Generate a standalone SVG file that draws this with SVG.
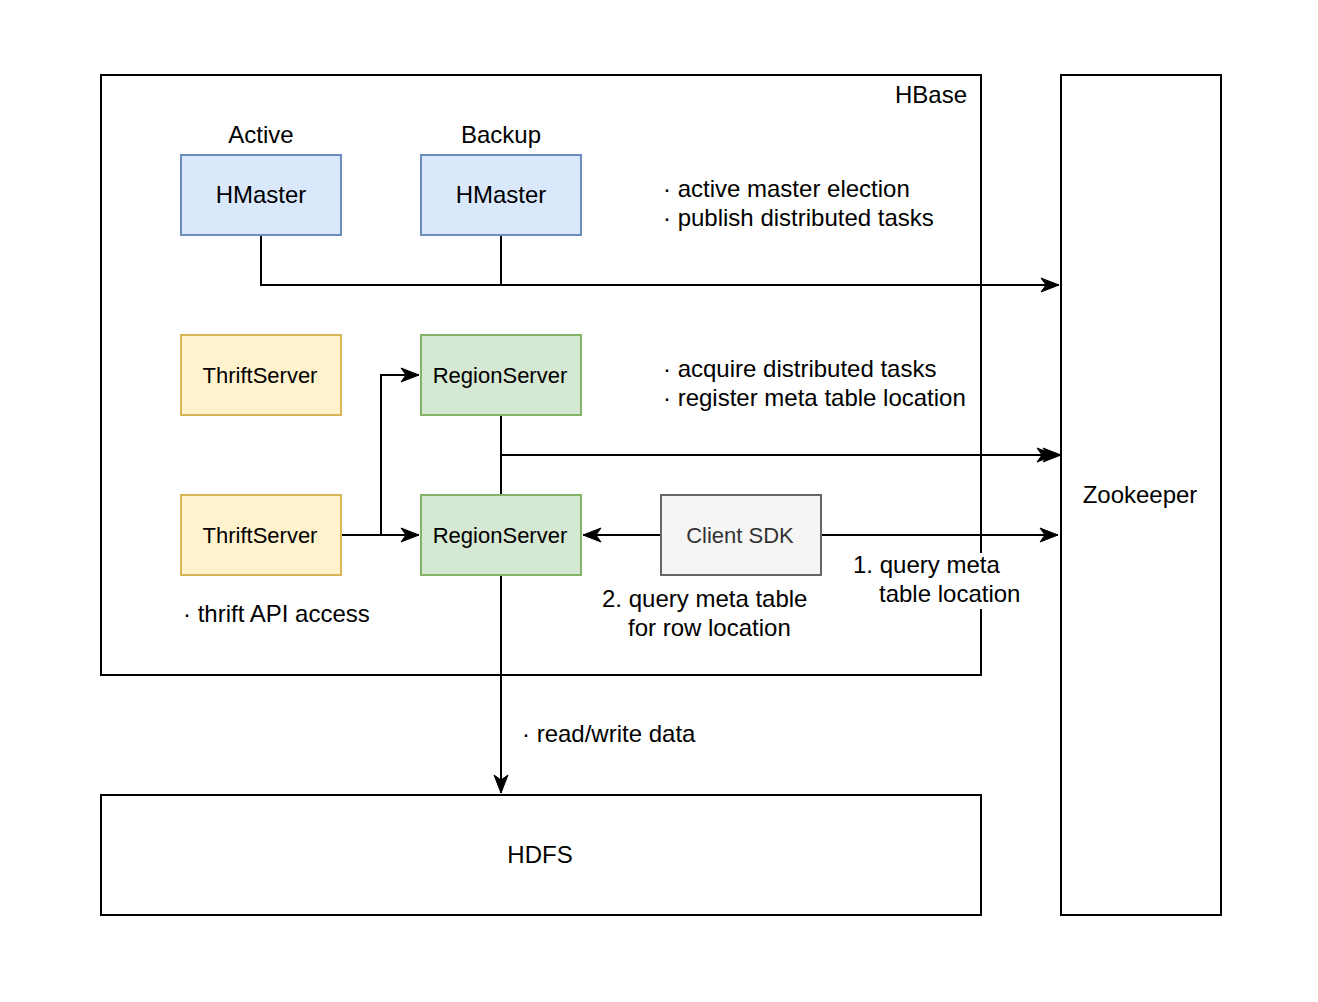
<svg xmlns="http://www.w3.org/2000/svg" width="1318" height="1002" viewBox="0 0 1318 1002">
<style>
text{font-family:"Liberation Sans",Arial,Helvetica,sans-serif;fill:#000;}
.c{text-anchor:middle;}
.big{font-size:24px;}
.mid{font-size:24px;}
.sm{font-size:22px;}
.frame{fill:#fff;stroke:#000;stroke-width:2;}
.blue{fill:#dae8fc;stroke:#6c8ebf;stroke-width:2;}
.yellow{fill:#fff2cc;stroke:#d6b656;stroke-width:2;}
.green{fill:#d5e8d4;stroke:#82b366;stroke-width:2;}
.gray{fill:#f5f5f5;stroke:#666666;stroke-width:2;}
.edge{fill:none;stroke:#000;stroke-width:2;}
</style>
<defs>
<marker id="arr" markerUnits="userSpaceOnUse" markerWidth="20" markerHeight="16" refX="19" refY="8" orient="auto">
<path d="M1,1 L19,8 L1,15 L6,8 z" fill="#000" stroke="#000" stroke-width="1"/>
</marker>
</defs>
<rect width="1318" height="1002" fill="#fff"/>
<g id="hbase">
<rect class="frame" x="101" y="75" width="880" height="600"/>
<text class="big c" x="931" y="103">HBase</text>
</g>
<g id="zookeeper">
<rect class="frame" x="1061" y="75" width="160" height="840"/>
<text class="big c" x="1140" y="503">Zookeeper</text>
</g>
<g id="hdfs">
<rect class="frame" x="101" y="795" width="880" height="120"/>
<text class="big c" x="540" y="863">HDFS</text>
</g>
<g id="connectors">
<path class="edge" d="M261,235 V285 H1059" marker-end="url(#arr)"/>
<path class="edge" d="M501,235 V285"/>
<path class="edge" d="M501,415 V455 H1061" marker-end="url(#arr)"/>
<path class="edge" d="M501,495 V455 H1055" marker-end="url(#arr)"/>
<path class="edge" d="M341,535 H419" marker-end="url(#arr)"/>
<path class="edge" d="M381,535 V375 H419" marker-end="url(#arr)"/>
<path class="edge" d="M661,535 H583" marker-end="url(#arr)"/>
<path class="edge" d="M821,535 H1058" marker-end="url(#arr)"/>
<path class="edge" d="M501,575 V793" marker-end="url(#arr)"/>
</g>
<g id="hmaster-active">
<text class="big c" x="261" y="143">Active</text>
<rect class="blue" x="181" y="155" width="160" height="80"/>
<text class="big c" x="261" y="203">HMaster</text>
</g>
<g id="hmaster-backup">
<text class="big c" x="501" y="143">Backup</text>
<rect class="blue" x="421" y="155" width="160" height="80"/>
<text class="big c" x="501" y="203">HMaster</text>
</g>
<g id="thrift-1">
<rect class="yellow" x="181" y="335" width="160" height="80"/>
<text class="sm c" x="260" y="383">ThriftServer</text>
</g>
<g id="thrift-2">
<rect class="yellow" x="181" y="495" width="160" height="80"/>
<text class="sm c" x="260" y="543">ThriftServer</text>
</g>
<g id="regionserver-1">
<rect class="green" x="421" y="335" width="160" height="80"/>
<text class="sm c" x="500" y="383">RegionServer</text>
</g>
<g id="regionserver-2">
<rect class="green" x="421" y="495" width="160" height="80"/>
<text class="sm c" x="500" y="543">RegionServer</text>
</g>
<g id="client-sdk">
<rect class="gray" x="661" y="495" width="160" height="80"/>
<text class="sm c" x="740" y="543" style="fill:#333333">Client SDK</text>
</g>
<g id="labels">
<text class="mid" x="663" y="197">· active master election</text>
<text class="mid" x="663" y="226">· publish distributed tasks</text>
<text class="mid" x="663" y="377">· acquire distributed tasks</text>
<text class="mid" x="663" y="406">· register meta table location</text>
<text class="mid" x="183" y="622">· thrift API access</text>
<text class="mid" x="522" y="742">· read/write data</text>
<text class="mid" x="602" y="607">2. query meta table</text>
<text class="mid" x="628" y="636">for row location</text>
<rect x="851" y="553" width="172" height="56" fill="#fff"/>
<text class="mid" x="853" y="573">1. query meta</text>
<text class="mid" x="879" y="602">table location</text>
</g>
</svg>
